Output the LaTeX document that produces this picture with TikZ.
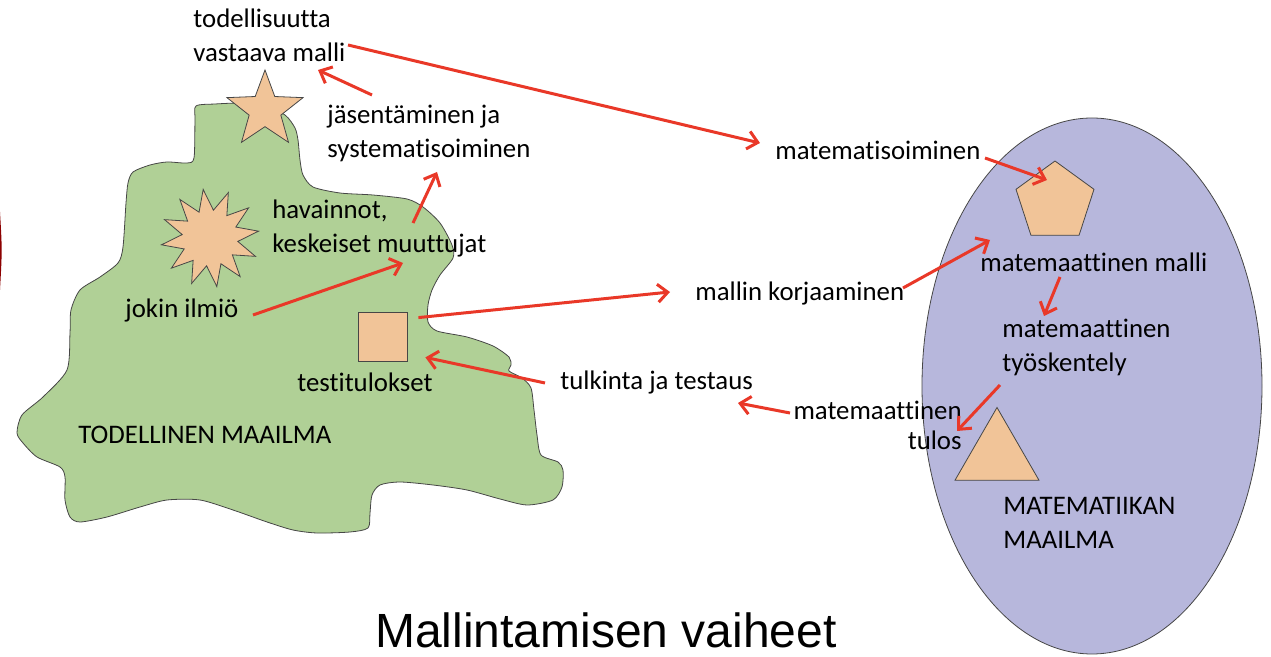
\documentclass[tikz,border=0pt]{standalone}
\usepackage{fontspec}
\setmainfont[Ligatures={NoCommon}]{Carlito}
\newfontfamily\titlefont{Liberation Sans}
\usetikzlibrary{shapes.geometric,arrows.meta}
\definecolor{arrred}{RGB}{233,56,40}
\definecolor{landgreen}{RGB}{176,208,150}
\definecolor{mathblue}{RGB}{183,183,220}
\definecolor{peach}{RGB}{241,196,152}
\definecolor{edgegray}{RGB}{70,70,70}
\begin{document}
\begin{tikzpicture}[x=0.5pt,y=-0.5pt,
    lbl/.style={inner sep=0pt,align=left,font=\fontsize{13.4}{17}\selectfont},
    arr/.style={draw=arrred,line width=1.5pt,-{Straight Barb[length=5pt,width=9pt]}},
    shp/.style={draw=edgegray,line width=0.4pt,fill=peach,inner sep=0pt}]
  \useasboundingbox (0,0) rectangle (1271,657);
  \fill[red!55!black] (0,212) .. controls (2.2,250) .. (0,290) -- cycle;
  \filldraw[fill=landgreen,draw=edgegray,line width=0.4pt] plot[smooth cycle,tension=0.45] coordinates {
    (196,106) (215,104) (240,103) (262,104) (285,115) (295,128) (298,140)
    (300,160) (303,175) (313,187) (340,193) (373,195) (407,199) (423,207)
    (440,223) (452,245) (453,258) (440,275) (432,290) (428,305) (428,322)
    (437,331) (467,337) (493,346) (509,357) (511,365) (509,371) (522,378)
    (531,388) (534,410) (537,435) (541,455) (558,462) (563,470) (562,487)
    (553,500) (527,505) (500,499) (467,490) (433,485) (400,482) (380,485)
    (372,495) (370,513) (368,528) (350,532) (317,533) (293,530) (267,522)
    (233,510) (200,500) (167,500) (140,507) (107,517) (80,522) (70,517)
    (65,500) (65,477) (60,467) (37,457) (23,443) (17,433) (22,415)
    (43,397) (67,370) (70,333) (71,310) (80,290) (100,277) (118,263)
    (123,247) (126,203) (128,183) (133,172) (150,165) (167,162) (187,163)
    (194,158) (195,120)};
  \node[draw=edgegray,line width=0.4pt,fill=mathblue,ellipse,minimum width=170pt,minimum height=268pt] (matworld) at (1092,386) {};

  \node[shp,star,star points=5,star point ratio=2.4,minimum size=40pt] (star) at (265,110) {};
  \node[shp,star,star points=12,star point ratio=1.75,minimum size=49pt,rotate=8] (burst) at (210,238) {};
  \node[shp,rectangle,minimum size=24.5pt] (testi) at (382.5,336.5) {};
  \node[shp,regular polygon,regular polygon sides=5,minimum size=41pt] (pent) at (1055,202) {};
  \node[shp,regular polygon,regular polygon sides=3,minimum size=48.5pt] (tri) at (997,456) {};

  \node[lbl,anchor=west] (todel) at (193,35) {todellisuutta\\vastaava malli};
  \node[lbl,anchor=west] (jasen) at (327,133) {jäsentäminen ja\\systematisoiminen};
  \node[lbl,anchor=west] (hav) at (272,228) {havainnot,\\keskeiset muuttujat};
  \node[lbl,anchor=west] (jokin) at (125,310) {jokin ilmiö};
  \node[lbl,anchor=west] (testul) at (297,382) {testitulokset};
  \node[lbl,anchor=west] (realworld) at (78,435) {TODELLINEN MAAILMA};
  \node[lbl,anchor=west] (matis) at (775,150) {matematisoiminen};
  \node[lbl,anchor=west] (korj) at (695,293) {mallin korjaaminen};
  \node[lbl,anchor=west] (tulk) at (560,382) {tulkinta ja testaus};
  \node[lbl,anchor=east,align=right] (mtulos) at (962,425) {matemaattinen\\[-2pt]tulos};
  \node[lbl,anchor=west] (mm) at (980,262) {matemaattinen malli};
  \node[lbl,anchor=west] (tyo) at (1002,347) {matemaattinen\\työskentely};
  \node[lbl,anchor=west] (mworld) at (1003,523) {MATEMATIIKAN\\MAAILMA};
  \node[inner sep=0pt,font=\titlefont\fontsize{24}{28}\selectfont] (title) at (606,630) {Mallintamisen vaiheet};

  \draw[arr] ([shift={(155,10)}]todel.west) -- ([shift={(-15,-7)}]matis.west);
  \draw[arr] ([shift={(45,-38)}]jasen.west) -- ([shift={(125,35)}]todel.west);
  \draw[arr] ([shift={(141,-5)}]hav.west) -- ([shift={(110,39)}]jasen.west);
  \draw[arr] ([shift={(128,5)}]jokin.west) -- ([shift={(131,35)}]hav.west);
  \draw[arr] ([shift={(11,6)}]testi.north east) -- ([shift={(-25,-1)}]korj.west);
  \draw[arr] ([shift={(-15,1)}]tulk.west) -- ([shift={(18,-4)}]testi.south east);
  \draw[arr] ([shift={(-172,-12)}]mtulos.east) -- ([shift={(178,21)}]tulk.west);
  \draw[arr] ([shift={(210,8)}]matis.west) -- ([shift={(-8,-22)}]pent.center);
  \draw[arr] ([shift={(208,-5)}]korj.west) -- ([shift={(10,-22)}]mm.west);
  \draw[arr] ([shift={(80,15)}]mm.west) -- ([shift={(42,-31)}]tyo.west);
  \draw[arr] ([shift={(-2,38)}]tyo.west) -- ([shift={(-5,6)}]mtulos.east);
\end{tikzpicture}
\end{document}
